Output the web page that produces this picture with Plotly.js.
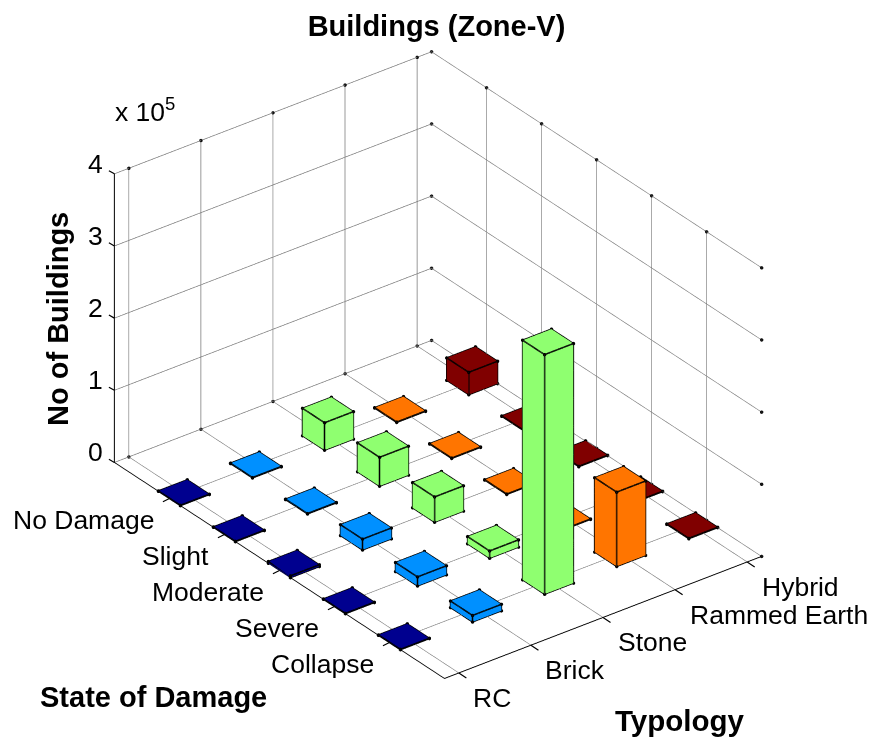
<!DOCTYPE html>
<html><head><meta charset="utf-8">
<script src="https://cdn.plot.ly/plotly-3.0.1.min.js"></script>
<style>html,body{margin:0;padding:0;background:#fff}#c{width:876px;height:740px}</style></head>
<body><div id="c"></div>
<script>
const typologies = ["RC","Brick","Stone","Rammed Earth","Hybrid"];
const damageStates = ["No Damage","Slight","Moderate","Severe","Collapse"];
const zTicks = [0,100000,200000,300000,400000];
const zTickLabels = ["0","1","2","3","4"];
const colors = ["#00008F","#0090FF","#8FFF70","#FF7500","#800000"];
// rows = typology, columns = damage state
const rcValues       = [500, 500, 2500, 500, 500];
const brickValues    = [500, 500, 15000, 12500, 9000];
const stoneValues    = [38000, 40000, 35000, 10000, 332000];
const rammedValues   = [500, 500, 500, 500, 103000];
const hybridValues   = [31000, 500, 500, 500, 500];
const allValues = [rcValues, brickValues, stoneValues, rammedValues, hybridValues];
const barWidth = 0.4;
const eyeDir = [-0.5263,-0.6863,0.5019], eyeDist = 3;
const xRange = [0.8,5.2], yRange = [-6,0], zRange = [0,400300];

const px = i => i + 1;          // typology position
const py = j => -(j + 1);       // damage position (axis runs toward the viewer)

const traces = [];
allValues.forEach((vals, i) => {
  const X=[],Y=[],Z=[],I=[],J=[],K=[];
  const ex=[],ey=[],ez=[];
  vals.forEach((v, j) => {
    const h = barWidth/2, x0=px(i)-h, x1=px(i)+h, y0=py(j)-h, y1=py(j)+h;
    const b = X.length;
    [[x0,y0,0],[x1,y0,0],[x1,y1,0],[x0,y1,0],[x0,y0,v],[x1,y0,v],[x1,y1,v],[x0,y1,v]].forEach(p=>{
      X.push(p[0]);Y.push(p[1]);Z.push(p[2]);
    });
    [[0,1,2],[0,2,3],[4,5,6],[4,6,7],[0,1,5],[0,5,4],[1,2,6],[1,6,5],[2,3,7],[2,7,6],[3,0,4],[3,4,7]].forEach(t=>{
      I.push(b+t[0]);J.push(b+t[1]);K.push(b+t[2]);
    });
    [[0,1],[1,2],[2,3],[3,0],[4,5],[5,6],[6,7],[7,4],[0,4],[1,5],[2,6],[3,7]].forEach(e=>{
      ex.push(X[b+e[0]],X[b+e[1]],null);ey.push(Y[b+e[0]],Y[b+e[1]],null);ez.push(Z[b+e[0]],Z[b+e[1]],null);
    });
  });
  traces.push({type:'mesh3d',x:X,y:Y,z:Z,i:I,j:J,k:K,color:colors[i],flatshading:true,
    lighting:{ambient:1,diffuse:0,specular:0,fresnel:0,roughness:1},hoverinfo:'skip',showscale:false});
  traces.push({type:'scatter3d',mode:'lines',x:ex,y:ey,z:ez,line:{color:'#000',width:3},hoverinfo:'skip',showlegend:false});
  traces.push({type:'scatter3d',mode:'markers',x:X,y:Y,z:Z,marker:{color:'#000',size:2,line:{width:0}},hoverinfo:'skip',showlegend:false});
});
// small dark ends of the grid lines
const gx=[],gy=[],gz=[];
const zTop = zTicks[zTicks.length-1];
typologies.forEach((_,i)=>{[0,zTop].forEach(z=>{gx.push(px(i));gy.push(yRange[1]);gz.push(z);});});
damageStates.forEach((_,j)=>{[0,zTop].forEach(z=>{gx.push(xRange[1]);gy.push(py(j));gz.push(z);});});
zTicks.forEach(z=>{gx.push(xRange[1],xRange[1]);gy.push(yRange[0],yRange[1]);gz.push(z,z);});
traces.push({type:'scatter3d',mode:'markers',x:gx,y:gy,z:gz,marker:{color:'#111',size:2,line:{width:0}},hoverinfo:'skip',showlegend:false});

const family='"Liberation Sans",Arial,sans-serif';
const tickFont = {family,size:26.5,color:'#000'};
const boldFont = {family,size:29,color:'#000',weight:'bold'};
const axisCommon = {showbackground:false,showgrid:true,gridcolor:'#777',gridwidth:1.5,zeroline:false,
  showticklabels:false,showline:true,linecolor:'#000',linewidth:2,ticks:'',
  showspikes:false,title:{text:''},autorange:false};
const sceneAnn = [];
const tickMark = (x,y,z,ax,ay)=>({x,y,z,text:' ',showarrow:true,arrowhead:0,arrowwidth:1.2,arrowcolor:'#000',ax,ay,standoff:0,startstandoff:0,font:{size:1}});
typologies.forEach((t,i)=>{
  sceneAnn.push({x:px(i),y:yRange[0],z:0,text:t,showarrow:false,xanchor:'left',yanchor:'middle',xshift:12.5,yshift:-25,font:tickFont});
  sceneAnn.push(tickMark(px(i),yRange[0],0,9,6));
});
damageStates.forEach((t,j)=>{
  sceneAnn.push({x:xRange[0],y:py(j),z:0,text:t,showarrow:false,xanchor:'right',yanchor:'middle',xshift:-13.5,yshift:-22,font:tickFont});
  sceneAnn.push(tickMark(xRange[0],py(j),0,-8,4));
});
zTicks.forEach((z,k)=>{
  sceneAnn.push({x:xRange[0],y:yRange[1],z:z,text:zTickLabels[k],showarrow:false,xanchor:'right',yanchor:'middle',xshift:-9,yshift:10,font:tickFont});
  sceneAnn.push(tickMark(xRange[0],yRange[1],z,-7,-4));
});

const layout = {
  width:876,height:740,margin:{l:0,r:0,t:0,b:0},paper_bgcolor:'#fff',showlegend:false,
  title:{text:'Buildings (Zone-V)',font:boldFont,x:436.5/876,xanchor:'center',y:1-26/740,yanchor:'middle'},
  scene:{
    domain:{x:[0,1],y:[0.0135,1]},
    aspectmode:'manual',aspectratio:{x:1.095,y:1.486,z:0.915},
    camera:{projection:{type:'orthographic'},up:{x:0,y:0,z:1},center:{x:0,y:0,z:0},
      eye:{x:eyeDir[0]*eyeDist,y:eyeDir[1]*eyeDist,z:eyeDir[2]*eyeDist}},
    xaxis:{...axisCommon,range:xRange,tickmode:'array',tickvals:typologies.map((_,i)=>px(i))},
    yaxis:{...axisCommon,range:yRange,tickmode:'array',tickvals:damageStates.map((_,j)=>py(j))},
    zaxis:{...axisCommon,range:zRange,tickmode:'array',tickvals:zTicks},
    annotations:sceneAnn
  },
  annotations:[
    {xref:'paper',yref:'paper',x:113/876,y:1-110/740,text:'x 10<sup>5</sup>',showarrow:false,xanchor:'left',yanchor:'middle',font:tickFont},
    {xref:'paper',yref:'paper',x:58/876,y:1-319/740,text:'No of Buildings',textangle:-90,showarrow:false,xanchor:'center',yanchor:'middle',font:boldFont},
    {xref:'paper',yref:'paper',x:153.5/876,y:1-697/740,text:'State of Damage',showarrow:false,xanchor:'center',yanchor:'middle',font:boldFont},
    {xref:'paper',yref:'paper',x:679.5/876,y:1-720/740,text:'Typology',showarrow:false,xanchor:'center',yanchor:'middle',font:{...boldFont,size:29.5}}
  ]
};
Plotly.newPlot('c',traces,layout,{displayModeBar:false});
</script></body></html>
